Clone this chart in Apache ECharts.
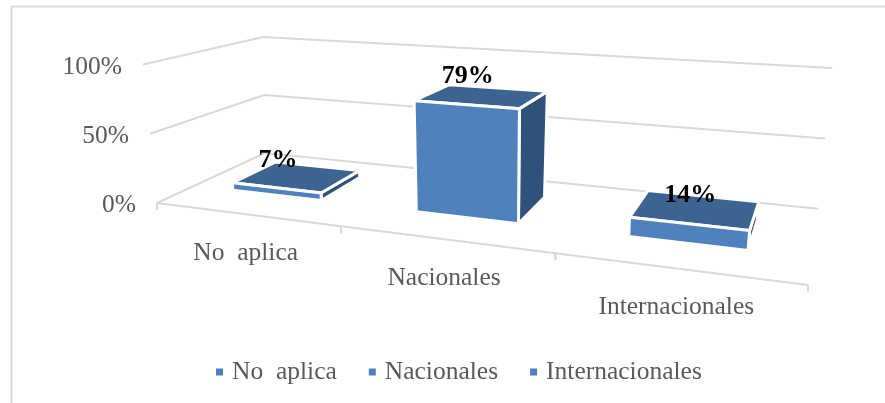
<!DOCTYPE html>
<html>
<head>
<meta charset="utf-8">
<title>Chart</title>
<style>
html, body { margin: 0; padding: 0; background: #fff; }
#chart { width: 885px; height: 403px; }
</style>
<script src="https://cdn.jsdelivr.net/npm/echarts@6/dist/echarts.min.js"></script>
</head>
<body>
<div id="chart"></div>
<script>
const categories = ['No  aplica', 'Nacionales', 'Internacionales']
const values = [7, 79, 14]
const tickValues = [0, 50, 100]
const tickLabels = ['0%', '50%', '100%']

const FONT = '"Liberation Serif", serif'
const TEXT_COLOR = '#595959'
const LINE_COLOR = '#d9d9d9'
const FRONT_COLOR = '#4f81bd'
const TOP_COLOR = '#3d6491'
const SIDE_COLOR = '#2f527b'
const BAR_BASE = 1.5        // the bars start slightly above the floor in the original
const BAND_FILL = 0.5       // bar width inside its category
const DEPTH = [0.28, 0.7]   // bar depth on the floor, front to back

// 3d look: corners of the floor and of the 100% plane, as
// front-left, front-right, back-right, back-left
const floorQuad = [[157, 203], [808, 285], [818, 208.8], [265, 153]]
const topQuad = [[143, 64.5], [825, 111.6], [832, 68], [263, 37]]

// unit square to quad
function quadMap(q) {
  const [[x0, y0], [x1, y1], [x2, y2], [x3, y3]] = q
  const sx = x0 - x1 + x2 - x3
  const sy = y0 - y1 + y2 - y3
  const dx1 = x1 - x2
  const dx2 = x3 - x2
  const dy1 = y1 - y2
  const dy2 = y3 - y2
  const det = dx1 * dy2 - dx2 * dy1
  const g = (sx * dy2 - dx2 * sy) / det
  const h = (dx1 * sy - sx * dy1) / det
  return (u, v) => {
    const w = g * u + h * v + 1
    return [
      ((x1 - x0 + g * x1) * u + (x3 - x0 + h * x3) * v + x0) / w,
      ((y1 - y0 + g * y1) * u + (y3 - y0 + h * y3) * v + y0) / w
    ]
  }
}

const floorAt = quadMap(floorQuad)
const topAt = quadMap(topQuad)

function project(u, v, z) {
  const a = floorAt(u, v)
  const b = topAt(u, v)
  return [a[0] + (b[0] - a[0]) * z, a[1] + (b[1] - a[1]) * z]
}

// value on the hidden axis -> height 0..1
function heightOf(params, api, value) {
  const rect = params.coordSys
  return (rect.y + rect.height - api.coord([0, value])[1]) / rect.height
}

function renderBar(params, api) {
  const rect = params.coordSys
  const index = api.value(0)
  const center = (api.coord([index, 0])[0] - rect.x) / rect.width
  const half = api.size([1, 0])[0] * BAND_FILL / 2 / rect.width
  const u0 = center - half
  const u1 = center + half
  const [v0, v1] = DEPTH
  const z0 = heightOf(params, api, BAR_BASE)
  const z1 = heightOf(params, api, api.value(1))

  const face = (points, fill) => ({
    type: 'polygon',
    shape: { points },
    style: { fill, stroke: '#fff', lineWidth: 3 }
  })
  const labelPos = project(center, v0, z1)

  return {
    type: 'group',
    children: [
      face([project(u1, v0, z1), project(u1, v1, z1), project(u1, v1, z0), project(u1, v0, z0)], SIDE_COLOR),
      face([project(u0, v0, z1), project(u0, v1, z1), project(u1, v1, z1), project(u1, v0, z1)], TOP_COLOR),
      face([project(u0, v0, z1), project(u1, v0, z1), project(u1, v0, z0), project(u0, v0, z0)], FRONT_COLOR),
      {
        type: 'text',
        style: {
          text: api.value(1) + '%',
          x: labelPos[0] + 2,
          y: labelPos[1] - 28,
          fill: '#000',
          font: 'bold 26px ' + FONT,
          align: 'center',
          verticalAlign: 'middle'
        }
      }
    ]
  }
}

function renderGridLine(params, api) {
  const z = heightOf(params, api, api.value(1))
  const start = project(0, 0, z)
  return {
    type: 'group',
    children: [
      {
        type: 'polyline',
        shape: { points: [start, project(0, 1, z), project(1, 1, z)] },
        style: { fill: 'none', stroke: LINE_COLOR, lineWidth: 2 }
      },
      {
        type: 'text',
        style: {
          text: tickLabels[params.dataIndex],
          x: start[0] - 21,
          y: start[1] + 2.5,
          fill: TEXT_COLOR,
          font: '25.5px ' + FONT,
          align: 'right',
          verticalAlign: 'middle'
        }
      }
    ]
  }
}

function renderFloor(params, api) {
  const rect = params.coordSys
  const index = api.value(0)
  const center = (api.coord([index, 0])[0] - rect.x) / rect.width
  const half = api.size([1, 0])[0] / 2 / rect.width
  const left = project(center - half, 0, 0)
  const right = project(center + half, 0, 0)
  const mid = project(center, 0, 0)
  const tick = p => ({
    type: 'line',
    shape: { x1: p[0], y1: p[1], x2: p[0], y2: p[1] + 7 },
    style: { stroke: LINE_COLOR, lineWidth: 2 }
  })
  return {
    type: 'group',
    children: [
      { type: 'line', shape: { x1: left[0], y1: left[1], x2: right[0], y2: right[1] }, style: { stroke: LINE_COLOR, lineWidth: 2 } },
      tick(left),
      tick(right),
      {
        type: 'text',
        style: {
          text: categories[index],
          x: mid[0],
          y: mid[1] + 39,
          fill: TEXT_COLOR,
          font: '25.5px ' + FONT,
          align: 'center',
          verticalAlign: 'middle'
        }
      }
    ]
  }
}

const chart = echarts.init(document.getElementById('chart'))

chart.setOption({
  animation: false,
  backgroundColor: '#fff',
  grid: { left: 0, right: 0, top: 0, bottom: 0 },
  xAxis: { type: 'category', data: categories, show: false },
  yAxis: { type: 'value', min: 0, max: 100, interval: 50, show: false },
  legend: {
    data: categories,
    left: 211,
    top: 354,
    icon: 'rect',
    itemWidth: 7,
    itemHeight: 7,
    itemGap: 32,
    textStyle: { color: TEXT_COLOR, fontFamily: FONT, fontSize: 25.5, padding: [0, 0, 0, 4] }
  },
  graphic: [{
    type: 'polyline',
    shape: { points: [[11.5, 403], [11.5, 6.5], [885, 6.5]] },
    style: { fill: 'none', stroke: LINE_COLOR, lineWidth: 2 },
    silent: true
  }],
  series: [
    {
      type: 'custom',
      name: 'grid',
      renderItem: renderGridLine,
      encode: { x: 0, y: 1 },
      data: tickValues.map(v => [0, v]),
      silent: true,
      z: 1
    },
    {
      type: 'custom',
      name: 'floor',
      renderItem: renderFloor,
      encode: { x: 0, y: 1 },
      data: categories.map((c, i) => [i, 0]),
      silent: true,
      z: 1
    },
    ...categories.map((name, i) => ({
      type: 'custom',
      name,
      renderItem: renderBar,
      encode: { x: 0, y: 1 },
      itemStyle: { color: FRONT_COLOR },
      data: [[i, values[i]]],
      z: 2
    }))
  ]
})

window.addEventListener('resize', () => chart.resize())
</script>
</body>
</html>
